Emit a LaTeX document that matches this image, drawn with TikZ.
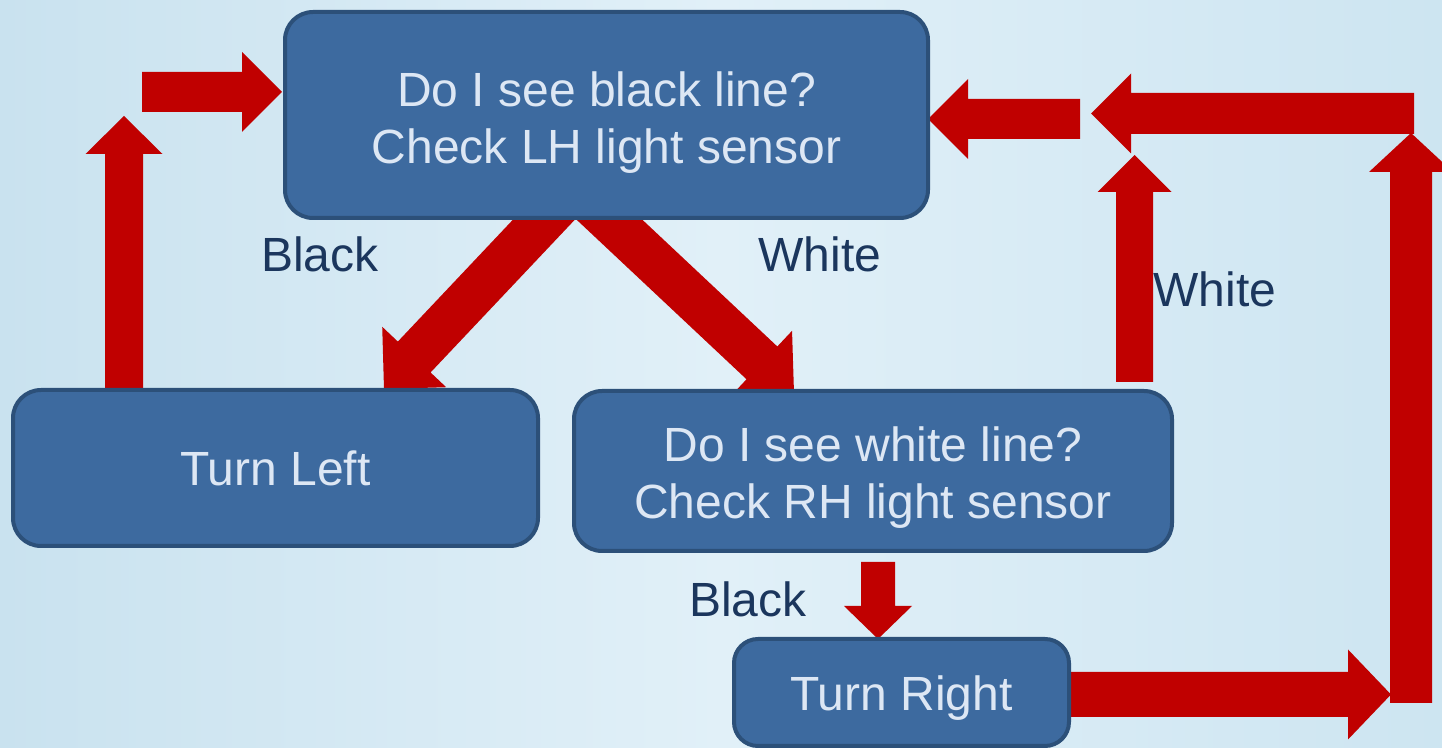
\documentclass[tikz,border=0pt]{standalone}
\usepackage{fontspec}
\setmainfont{Liberation Sans}
\usetikzlibrary{calc}
\definecolor{bgA}{HTML}{C9E2EF}
\definecolor{bgB}{HTML}{E1F0F8}
\definecolor{bgC}{HTML}{CDE5F1}
\definecolor{boxfill}{HTML}{3D6A9F}
\definecolor{boxedge}{HTML}{2C5079}
\definecolor{boxtext}{HTML}{DDE7F4}
\definecolor{labeltext}{HTML}{1B365D}
\definecolor{arrowred}{HTML}{C00000}
\newcommand\blockarr[5]{%
  \coordinate (hb) at ($(#2)!#5!(#1)$);
  \fill[arrowred] ($(#1)!#3!90:(#2)$) -- ($(hb)!#3!90:(#2)$) -- ($(hb)!#4!90:(#2)$) -- (#2)
    -- ($(hb)!#4!-90:(#2)$) -- ($(hb)!#3!-90:(#2)$) -- ($(#1)!#3!-90:(#2)$) -- cycle;}
\tikzset{
  box/.style={draw=boxedge, line width=2pt, fill=boxfill, rounded corners=14pt, inner sep=0pt},
  boxtxt/.style={text=boxtext, font=\fontsize{24}{28.5}\selectfont, align=center, inner sep=0pt},
  lbl/.style={text=labeltext, font=\fontsize{24}{28.5}\selectfont, inner sep=0pt}
}
\begin{document}
\begin{tikzpicture}[x=0.5pt,y=-0.5pt]
\useasboundingbox (0,0) rectangle (1442,748);
\shade[left color=bgA, right color=bgC, middle color=bgB] (0,0) rectangle (1442,748);

% arrow end points
\coordinate (a1s) at (124,388);   \coordinate (a1e) at (124,116);
\coordinate (a2s) at (142,92);    \coordinate (a2e) at (282,92);
\coordinate (a3s) at (1080,119);  \coordinate (a3e) at (928,119);
\coordinate (a4s) at (1414,113.5);\coordinate (a4e) at (1091,113.5);
\coordinate (a5s) at (1134.5,382);\coordinate (a5e) at (1134.5,155);
\coordinate (a6s) at (1411,703);  \coordinate (a6e) at (1411,133);
\coordinate (a7s) at (1060,694.5);\coordinate (a7e) at (1391,694.5);
\coordinate (a8s) at (878,562);   \coordinate (a8e) at (878,639);
\coordinate (a9s) at (571,191);   \coordinate (a9e) at (384,389);
\coordinate (a10s) at (581,193);  \coordinate (a10e) at (794,393);

\blockarr{a1s}{a1e}{9.5pt}{19.25pt}{19pt}
\blockarr{a2s}{a2e}{10pt}{20pt}{20pt}
\blockarr{a3s}{a3e}{10pt}{20pt}{20pt}
\blockarr{a4s}{a4e}{10.25pt}{20pt}{20pt}
\blockarr{a5s}{a5e}{9.25pt}{18.5pt}{18.5pt}
\blockarr{a6s}{a6e}{10.5pt}{21pt}{19.5pt}
\blockarr{a7s}{a7e}{11.25pt}{22.5pt}{21.5pt}
\blockarr{a8s}{a8e}{8.5pt}{17pt}{16.5pt}
\blockarr{a9s}{a9e}{11.25pt}{22pt}{22pt}
\blockarr{a10s}{a10e}{11.25pt}{22pt}{22pt}

% boxes
\node[box, minimum width=321.5pt, minimum height=103pt] (q1) at (606.5,115) {};
\node[boxtxt] (q1t) at ([yshift=-4pt]q1.center) {Do I see black line?\\Check LH light sensor};
\node[box, minimum width=262.5pt, minimum height=78pt] (left) at (275.5,468) {};
\node[boxtxt] (leftt) at (left.center) {Turn Left};
\node[box, minimum width=299pt, minimum height=80pt] (q2) at (873,471) {};
\node[boxtxt] (q2t) at ([yshift=-3.5pt]q2.center) {Do I see white line?\\Check RH light sensor};
\node[box, minimum width=167.5pt, minimum height=53.5pt, rounded corners=12pt] (right) at (901.5,692.5) {};
\node[boxtxt] (rightt) at ([yshift=-3pt]right.center) {Turn Right};

% labels
\node[lbl] (l1) at (320,254) {Black};
\node[lbl] (l2) at (820,254) {White};
\node[lbl] (l3) at (1215,289) {White};
\node[lbl] (l4) at (748,599) {Black};
\end{tikzpicture}
\end{document}
